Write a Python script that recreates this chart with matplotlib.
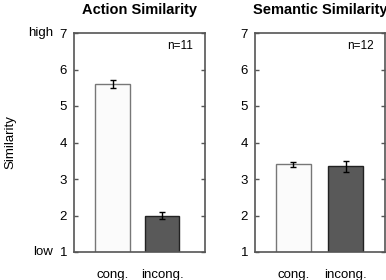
import numpy as np
import matplotlib as mpl

mpl.use('Agg')
import matplotlib.pyplot as plt

plt.rcParams['font.family'] = ['Liberation Sans', 'DejaVu Sans']

# data
conditions = ['cong.', 'incong.']
action_means = [5.6, 2.0]
action_err = [0.1, 0.1]
semantic_means = [3.4, 3.35]
semantic_err = [0.06, 0.15]
panel_titles = ['Action Similarity', 'Semantic Similarity']
panel_n = ['n=11', 'n=12']

bar_faces = ['#fbfbfb', '#595959']
bar_edges = ['#777777', '#222222']
spine_col = '#555555'

fig = plt.figure(figsize=(3.86, 2.8), dpi=100)
ax1 = fig.add_axes([74 / 386, 28 / 280, 131 / 386, 219 / 280])
ax2 = fig.add_axes([255 / 386, 28 / 280, 130 / 386, 219 / 280])

panels = [(ax1, action_means, action_err, (0.22, 2.87), 0.7),
          (ax2, semantic_means, semantic_err, (0.27, 2.75), 0.67)]

for i, (ax, means, err, xlim, w) in enumerate(panels):
    x = np.arange(1, len(means) + 1)
    ax.bar(x, means, width=w, bottom=0, color=bar_faces,
           edgecolor=bar_edges, linewidth=1.0, zorder=2)
    ax.errorbar(x, means, yerr=err, fmt='none', ecolor='black',
                elinewidth=1.0, capsize=2, capthick=1.0, zorder=3)
    ax.set_xlim(*xlim)
    ax.set_ylim(1, 7)
    ax.set_yticks(range(1, 8))
    ax.set_xticks(x)
    ax.set_xticklabels(conditions)
    ax.tick_params(axis='y', direction='in', length=3, width=1,
                   color=spine_col, right=True, labelsize=9.5, pad=5)
    ax.tick_params(axis='x', length=0, labelsize=9.5, pad=12)
    for sp in ax.spines.values():
        sp.set_color(spine_col)
        sp.set_linewidth(1.2)
    ax.set_title(panel_titles[i], fontsize=10.5, fontweight='bold', pad=14)
    ax.text(0.91, 0.94, panel_n[i], transform=ax.transAxes,
            ha='right', va='center', fontsize=8.5)

ax1.set_ylabel('Similarity', fontsize=9.5, labelpad=31)
ax1.text(-0.16, 7, 'high', transform=ax1.get_yaxis_transform(),
         ha='right', va='center', fontsize=9.5)
ax1.text(-0.16, 1, 'low', transform=ax1.get_yaxis_transform(),
         ha='right', va='center', fontsize=9.5)

fig.savefig('out.png', dpi=100)
